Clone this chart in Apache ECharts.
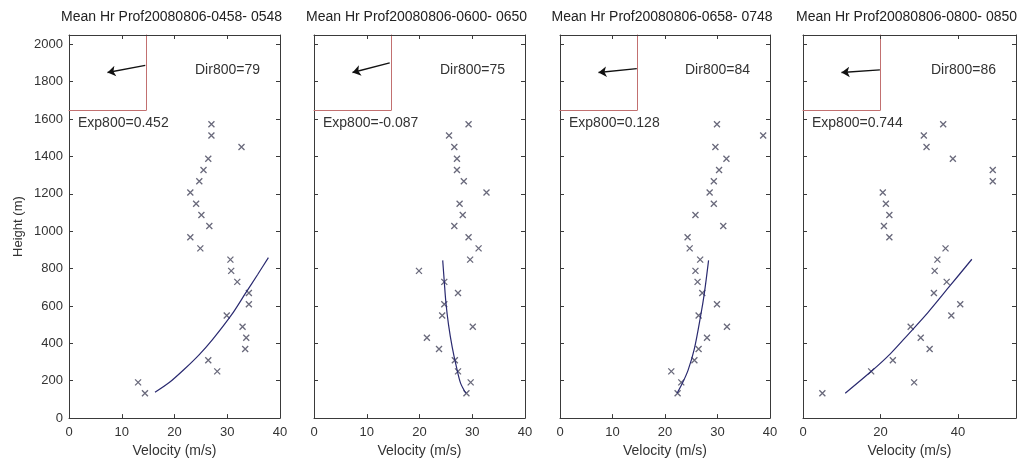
<!DOCTYPE html>
<html><head><meta charset="utf-8">
<script src="https://cdn.jsdelivr.net/npm/echarts@6/dist/echarts.min.js"></script>
<style>html,body{margin:0;padding:0;background:#fff}#c{width:1024px;height:463px}</style>
</head><body><div id="c"></div>
<script>
// ---- data ----
const titles = [
  'Mean Hr Prof20080806-0458- 0548',
  'Mean Hr Prof20080806-0600- 0650',
  'Mean Hr Prof20080806-0658- 0748',
  'Mean Hr Prof20080806-0800- 0850'
];
const dirs = [79, 75, 84, 86];
const exps = ['0.452', '-0.087', '0.128', '0.744'];
const heights = [133,191,250,310,370,430,489,549,609,669,729,788,848,908,968,1028,1087,1147,1207,1267,1328,1388,1451,1512,1572];
const velP1 = [14.4,13.1,28.1,26.4,33.4,33.6,32.9,29.9,34.1,34.1,31.9,30.75,30.6,24.9,23.0,26.6,25.1,24.1,23.0,24.7,25.5,26.4,32.7,27.0,27.0];
const velP2 = [28.9,29.7,27.3,26.7,23.7,21.4,30.1,24.3,24.7,27.3,24.7,19.9,29.6,31.2,29.3,26.6,28.2,27.6,32.7,28.4,27.1,27.1,26.6,25.6,29.3];
const velP3 = [22.4,23.1,21.2,25.6,26.4,28.0,31.8,26.4,29.9,27.1,26.2,25.8,26.7,24.7,24.3,31.1,25.8,29.3,28.5,29.3,30.3,31.7,29.6,38.7,29.9];
const velP4 = [5.0,28.7,17.6,23.2,32.7,30.4,27.8,38.3,40.6,33.8,37.1,34.0,34.7,36.8,22.3,20.9,22.3,21.4,20.6,49.0,49.0,38.7,31.9,31.2,36.2];
const fit1 = [[16.3,138],[19.0,190],[21.8,260],[24.7,340],[27.2,420],[30.8,552],[33.5,670],[35.8,770],[37.8,859]];
const fit2 = [[28.8,133],[27.8,186],[27.0,274],[26.2,380],[25.5,500],[25.0,620],[24.7,729],[24.4,844]];
const fit3 = [[22.3,133],[23.3,186],[24.4,257],[25.6,372],[26.8,549],[27.5,669],[28.3,844]];
const fit4 = [[10.9,133],[17.8,253],[22.6,345],[27.3,451],[32.3,566],[37.6,699],[43.6,850]];
const xMax = [40, 40, 40, 55];
const xStep = [10, 10, 10, 20];
const yMax = 2050, yStep = 200;

// ---- layout ----
const vels = [velP1, velP2, velP3, velP4];
const fits = [fit1, fit2, fit3, fit4];
const L = [69, 314, 560, 803], W = [211, 211, 210, 213];
const TOP = 35, H = 384;
const FONT = '"Liberation Sans", Arial, sans-serif';
const axisCol = '#3a3a3a', txtCol = '#333';
const insetCol = '#c27070';

const grid = [], xAxis = [], yAxis = [], series = [], graphic = [];
for (let i = 0; i < 4; i++) {
  grid.push({left: L[i], top: TOP, width: W[i], height: H});
  const baseX = {gridIndex: i, type: 'value', min: 0, max: xMax[i], interval: xStep[i],
    splitLine: {show: false}, axisLine: {onZero: false, lineStyle: {color: axisCol, width: 1}},
    axisTick: {inside: true, length: 4, lineStyle: {color: axisCol}}};
  xAxis.push(Object.assign({}, baseX, {position: 'bottom',
    axisLabel: {fontFamily: FONT, fontSize: 13, color: txtCol, margin: 8, showMaxLabel: xMax[i] % xStep[i] === 0,
      formatter: v => (v % xStep[i] === 0 ? String(v) : '')},
    name: 'Velocity (m/s)', nameLocation: 'middle', nameGap: 25,
    nameTextStyle: {fontFamily: FONT, fontSize: 14, color: txtCol}}));
  xAxis.push(Object.assign({}, baseX, {position: 'top', axisLabel: {show: false}}));
  const baseY = {gridIndex: i, type: 'value', min: 0, max: yMax, interval: yStep,
    splitLine: {show: false}, axisLine: {onZero: false, lineStyle: {color: axisCol, width: 1}},
    axisTick: {inside: true, length: 4, lineStyle: {color: axisCol}}};
  yAxis.push(Object.assign({}, baseY, {position: 'left',
    axisLabel: {show: i === 0, fontFamily: FONT, fontSize: 13, color: txtCol, margin: 6, showMaxLabel: false,
      formatter: v => String(v)},
    name: i === 0 ? 'Height (m)' : '', nameLocation: 'middle', nameGap: 44,
    nameTextStyle: {fontFamily: FONT, fontSize: 13, color: txtCol}}));
  yAxis.push(Object.assign({}, baseY, {position: 'right', axisLabel: {show: false}}));
}
for (let i = 0; i < 4; i++) {
  grid.push({left: L[i], top: TOP, width: 77, height: 75});
  xAxis.push({gridIndex: 4 + i, type: 'value', min: -1, max: 1, position: 'bottom',
    axisLine: {onZero: false, lineStyle: {color: insetCol, width: 1}}, axisTick: {show: false}, axisLabel: {show: false}, splitLine: {show: false}});
  yAxis.push({gridIndex: 4 + i, type: 'value', min: -1, max: 1, position: 'right',
    axisLine: {onZero: false, lineStyle: {color: insetCol, width: 1}}, axisTick: {show: false}, axisLabel: {show: false}, splitLine: {show: false}});
}
for (let i = 0; i < 4; i++) {
  series.push({type: 'scatter', xAxisIndex: 2 * i, yAxisIndex: 2 * i,
    symbol: 'path://M0,0L10,10M10,0L0,10', symbolSize: 6,
    itemStyle: {color: 'rgba(0,0,0,0)', borderColor: '#44445a', borderWidth: 1.3},
    data: heights.map((h, k) => [vels[i][k], h])});
  series.push({type: 'line', xAxisIndex: 2 * i, yAxisIndex: 2 * i, smooth: 0.3, symbol: 'none',
    lineStyle: {color: '#2a2a70', width: 1.2}, data: fits[i]});
  const r = dirs[i] * Math.PI / 180;
  series.push({type: 'lines', coordinateSystem: 'cartesian2d', xAxisIndex: 8 + i, yAxisIndex: 8 + i,
    symbol: ['none', 'arrow'], symbolSize: 8,
    lineStyle: {color: '#111', width: 1.3, opacity: 1},
    data: [{coords: [[Math.sin(r), Math.cos(r)], [0, 0]]}]});
  graphic.push({type: 'text', x: L[i] + W[i] / 2 - 3, y: 17,
    style: {text: titles[i], font: '14px ' + FONT, fill: '#222', align: 'center', verticalAlign: 'middle'}});
  graphic.push({type: 'text', x: L[i] + W[i] - 20, y: 70,
    style: {text: 'Dir800=' + dirs[i], font: '14px ' + FONT, fill: '#333', align: 'right', verticalAlign: 'middle'}});
  graphic.push({type: 'text', x: L[i] + 9, y: 123,
    style: {text: 'Exp800=' + exps[i], font: '14px ' + FONT, fill: '#333', align: 'left', verticalAlign: 'middle'}});
}

const chart = echarts.init(document.getElementById('c'));
chart.setOption({animation: false, backgroundColor: '#fff', grid, xAxis, yAxis, series, graphic});
</script></body></html>
